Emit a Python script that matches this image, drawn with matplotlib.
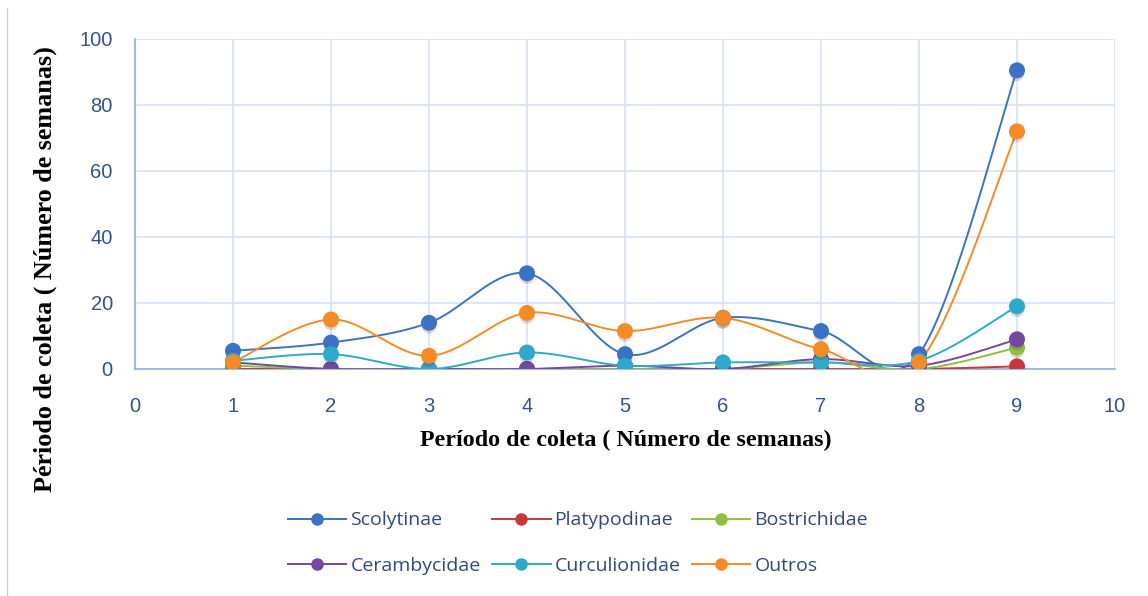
import numpy as np
import matplotlib
matplotlib.use("Agg")
import matplotlib.pyplot as plt
import matplotlib.patheffects as pe
from matplotlib.lines import Line2D

weeks = [1, 2, 3, 4, 5, 6, 7, 8, 9]
series_names = ["Scolytinae", "Platypodinae", "Bostrichidae",
                "Cerambycidae", "Curculionidae", "Outros"]
scolytinae = [5.5, 8, 14, 29, 4.5, 15.5, 11.5, 4.5, 90.5]
platypodinae = [0, 0, 0, 0, 0, 0, 0, 0, 0.8]
bostrichidae = [1, 0, 0, 0, 0, 0, 2, 0, 6.5]
cerambycidae = [2, 0, 0, 0, 1, 0, 3, 1, 9]
curculionidae = [2.5, 4.5, 0, 5, 1, 2, 2, 2.5, 19]
outros = [2, 15, 4, 17, 11.5, 15.5, 6, 2, 72]
series_values = [scolytinae, platypodinae, bostrichidae,
                 cerambycidae, curculionidae, outros]
colors = ["#3a72c4", "#c8383a", "#8dc040", "#7447a0", "#2fa9c9", "#f58b25"]
x_ticks = [0, 1, 2, 3, 4, 5, 6, 7, 8, 9, 10]
y_ticks = [0, 20, 40, 60, 80, 100]


def smooth(xs, ys, n=40):
    """Excel-like smoothed line (Bezier through the data points)."""
    xs = np.asarray(xs, float)
    ys = np.asarray(ys, float)
    px = np.concatenate([[xs[0]], xs, [xs[-1]]])
    py = np.concatenate([[ys[0]], ys, [ys[-1]]])
    ox, oy = [], []
    t = np.linspace(0, 1, n)
    for i in range(1, len(px) - 2):
        p0x, p1x, p2x, p3x = px[i - 1], px[i], px[i + 1], px[i + 2]
        p0y, p1y, p2y, p3y = py[i - 1], py[i], py[i + 1], py[i + 2]
        c1x = p1x + (p2x - p0x) / 6
        c1y = p1y + (p2y - p0y) / 6
        c2x = p2x - (p3x - p1x) / 6
        c2y = p2y - (p3y - p1y) / 6
        bx = ((1 - t) ** 3) * p1x + 3 * ((1 - t) ** 2) * t * c1x + 3 * (1 - t) * t ** 2 * c2x + t ** 3 * p2x
        by = ((1 - t) ** 3) * p1y + 3 * ((1 - t) ** 2) * t * c1y + 3 * (1 - t) * t ** 2 * c2y + t ** 3 * p2y
        ox.extend(bx)
        oy.extend(by)
    return np.array(ox), np.array(oy)


fig = plt.figure(figsize=(11.48, 5.96), dpi=100)
ax = fig.add_axes([135 / 1148, 1 - 369 / 596, (1115 - 135) / 1148, (369 - 39) / 596])

tick_color = "#2f5490"
grid_color = "#d6e2f3"
axis_color = "#8eb0e0"

for i, (name, vals, c) in enumerate(zip(series_names, series_values, colors)):
    sx, sy = smooth(weeks, vals)
    ax.plot(sx, sy, color=c, lw=1.4, zorder=3 + i * 0.1, solid_capstyle="round")
for i, (name, vals, c) in enumerate(zip(series_names, series_values, colors)):
    ax.plot(weeks, vals, linestyle="none", marker="o", markersize=10.5,
            markerfacecolor=c, markeredgecolor=c, zorder=4 + i * 0.1,
            path_effects=[pe.SimplePatchShadow(offset=(0, -2.5), shadow_rgbFace="#303030", alpha=0.18),
                          pe.Normal()])

ax.set_xlim(0, 10)
ax.set_ylim(0, 100)
ax.set_xticks(x_ticks)
ax.set_yticks(y_ticks)
ax.grid(True, color=grid_color, lw=1.2)
ax.set_axisbelow(True)
for s in ["top", "right"]:
    ax.spines[s].set_visible(False)
for s in ["left", "bottom"]:
    ax.spines[s].set_color(axis_color)
    ax.spines[s].set_linewidth(1.2)
ax.tick_params(axis="both", length=0, colors=tick_color, labelsize=14.5)
ax.tick_params(axis="x", pad=20)
ax.tick_params(axis="y", pad=16)
for lab in ax.get_xticklabels() + ax.get_yticklabels():
    lab.set_fontfamily(["Liberation Sans Narrow", "Liberation Sans", "DejaVu Sans"])

fig.text(626 / 1148, 1 - 440 / 596, "Período de coleta ( Número de semanas)",
         fontsize=17.3, fontweight="bold", family=["Liberation Serif", "DejaVu Serif"],
         ha="center", va="center")
fig.text(45 / 1148, 1 - 269 / 596, "Périodo de coleta ( Número de semanas)", rotation=90,
         fontsize=18.8, fontweight="bold", family=["Liberation Serif", "DejaVu Serif"],
         ha="center", va="center")

order = [0, 3, 1, 4, 2, 5]
handles = [Line2D([0], [0], color=colors[k], lw=1.4, marker="o", markersize=8,
                  markerfacecolor=colors[k], markeredgecolor=colors[k]) for k in order]
labels = [series_names[k] for k in order]
leg = fig.legend(handles, labels, loc="center", ncol=3,
                 bbox_to_anchor=(578 / 1148, 1 - 543 / 596), frameon=False,
                 prop={"family": ["Open Sans", "DejaVu Sans"], "size": 14},
                 handlelength=3.0, columnspacing=0.6, handletextpad=0.2,
                 labelspacing=1.4)
for t in leg.get_texts():
    t.set_color("#2f4a7a")

fig.add_artist(Line2D([7 / 1148, 7 / 1148], [0, 1 - 8 / 596], color="#d0d0d0", lw=1.0))

fig.savefig("out.png", dpi=100)
